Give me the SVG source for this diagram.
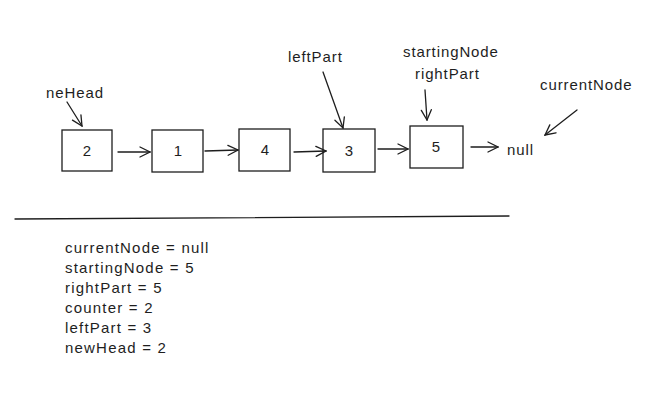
<svg xmlns="http://www.w3.org/2000/svg" width="663" height="403" viewBox="0 0 663 403">
<style>
.box{fill:none;stroke:#1e1e1e;stroke-width:1.3}
.ln{fill:none;stroke:#1e1e1e;stroke-width:1.3;stroke-linecap:round;stroke-linejoin:round}
text{font-family:"Liberation Sans",Arial,sans-serif;fill:#1e1e1e}
.v{font-size:15px;text-anchor:middle}
.t{font-size:15px;letter-spacing:0.9px}
.s{font-size:15px;letter-spacing:1.2px}
</style>
<defs>
<marker id="ah" viewBox="0 0 12 12" refX="11" refY="6" markerWidth="12" markerHeight="12" markerUnits="userSpaceOnUse" orient="auto">
<path d="M1,1 L11,6 L1,11" fill="none" stroke="#1e1e1e" stroke-width="1.3" stroke-linecap="round"/>
</marker>
</defs>
<rect width="663" height="403" fill="#fff"/>
<g id="node-2"><rect class="box" x="62" y="130" width="50" height="41"/><text class="v" x="87" y="156">2</text></g>
<g id="node-1"><rect class="box" x="152" y="130" width="51" height="42"/><text class="v" x="178" y="156">1</text></g>
<g id="node-4"><rect class="box" x="239" y="129" width="51" height="42"/><text class="v" x="265" y="155">4</text></g>
<g id="node-3"><rect class="box" x="323" y="129" width="52" height="43"/><text class="v" x="349" y="156">3</text></g>
<g id="node-5"><rect class="box" x="410" y="126" width="53" height="42"/><text class="v" x="436" y="152">5</text></g>
<g id="null"><text class="t" x="507" y="155">null</text></g>
<g id="label-neHead"><text class="t" x="46" y="98">neHead</text></g>
<g id="label-leftPart"><text class="t" x="288" y="62">leftPart</text></g>
<g id="label-startingNode"><text class="t" x="403" y="57">startingNode</text><text class="t" x="415" y="79">rightPart</text></g>
<g id="label-currentNode"><text class="t" x="540" y="90">currentNode</text></g>
<g id="connectors">
<line class="ln" x1="118" y1="152" x2="150" y2="152" marker-end="url(#ah)"/>
<line class="ln" x1="205" y1="151" x2="238" y2="150" marker-end="url(#ah)"/>
<line class="ln" x1="294" y1="152" x2="326" y2="151" marker-end="url(#ah)"/>
<line class="ln" x1="378" y1="149" x2="408" y2="149" marker-end="url(#ah)"/>
<line class="ln" x1="471" y1="147" x2="498" y2="147" marker-end="url(#ah)"/>
<line class="ln" x1="67" y1="102" x2="82" y2="126" marker-end="url(#ah)"/>
<line class="ln" x1="323" y1="72" x2="343" y2="128" marker-end="url(#ah)"/>
<line class="ln" x1="425" y1="90" x2="427" y2="120" marker-end="url(#ah)"/>
<line class="ln" x1="577" y1="110" x2="545" y2="135" marker-end="url(#ah)"/>
</g>
<line class="ln" x1="15" y1="219" x2="509" y2="216" stroke-width="1.5"/>
<g id="state">
<text class="s" x="65" y="253">currentNode = null</text>
<text class="s" x="65" y="273">startingNode = 5</text>
<text class="s" x="65" y="293">rightPart = 5</text>
<text class="s" x="65" y="313">counter = 2</text>
<text class="s" x="65" y="333">leftPart = 3</text>
<text class="s" x="65" y="353">newHead = 2</text>
</g>
</svg>
